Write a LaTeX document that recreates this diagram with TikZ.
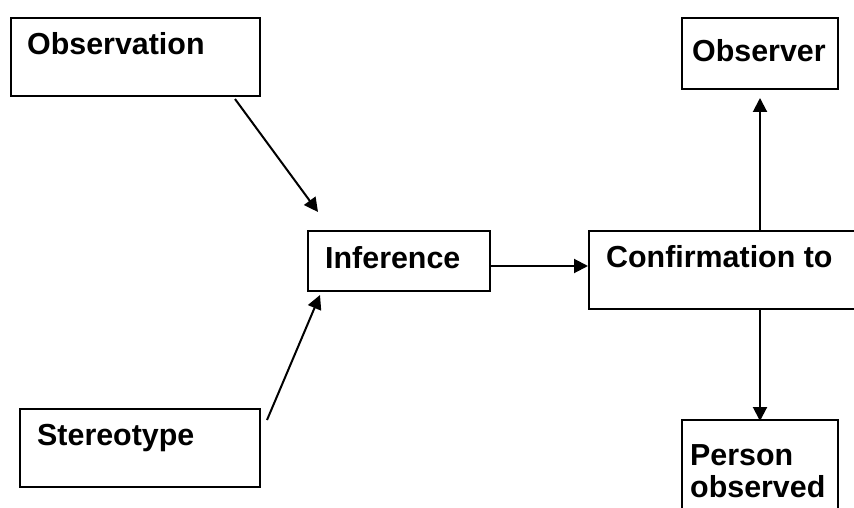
\documentclass[tikz,border=0pt]{standalone}
\usepackage{fontspec}
\setmainfont{Liberation Sans}
\usetikzlibrary{arrows.meta,calc}
\begin{document}
\begin{tikzpicture}[x=1pt,y=-1pt,
 box/.style={draw=black, line width=2pt, fill=white, inner sep=0pt, anchor=north west},
 lbl/.style={font=\bfseries\fontsize{30.4}{32}\selectfont, inner sep=0pt, anchor=base west, align=left},
 conn/.style={line width=2pt, -{Triangle[length=14pt,width=14pt]}}]
\useasboundingbox (0,0) rectangle (854,508);
\clip (0,0) rectangle (854,508);
\fill[white] (0,0) rectangle (854,508);
% boxes
\node[box, minimum width=249pt, minimum height=78pt] (obs) at (10,17) {};
\node[box, minimum width=240pt, minimum height=78pt] (ste) at (19,408) {};
\node[box, minimum width=182pt, minimum height=60pt] (inf) at (307,230) {};
\node[box, minimum width=290pt, minimum height=78pt] (con) at (588,230) {};
\node[box, minimum width=156pt, minimum height=71pt] (obr) at (681,17) {};
\node[box, minimum width=156pt, minimum height=110pt] (per) at (681,419) {};
% labels
\node[lbl] (obsT) at ($(obs.north west)+(17,38)$) {Observation};
\node[lbl] (steT) at ($(ste.north west)+(18,37)$) {Stereotype};
\node[lbl] (infT) at ($(inf.north west)+(18,38)$) {Inference};
\node[lbl] (conT) at ($(con.north west)+(18,37)$) {Confirmation to};
\node[lbl] (obrT) at ($(obr.north west)+(11,45)$) {Observer};
\node[lbl] (perT) at ($(per.north west)+(9,78)$) {Person\\observed};
% connectors
\coordinate (a1) at ($(obs.south west)+(225,2)$);
\coordinate (a1e) at ($(inf.north west)+(11,-18)$);
\draw[conn] (a1) -- (a1e);
\coordinate (a2) at ($(ste.north east)+(6,12)$);
\coordinate (a2e) at ($(inf.south west)+(13,3)$);
\draw[conn] (a2) -- (a2e);
\draw[conn] ($(inf.east)+(0,5)$) -- ($(con.west)+(0,-4)$);
\draw[conn] (obr.south |- con.north) -- ($(obr.south)+(0,8)$);
\draw[conn] (obr.south |- con.south) -- ($(per.north)+(0,2)$);
\end{tikzpicture}
\end{document}
